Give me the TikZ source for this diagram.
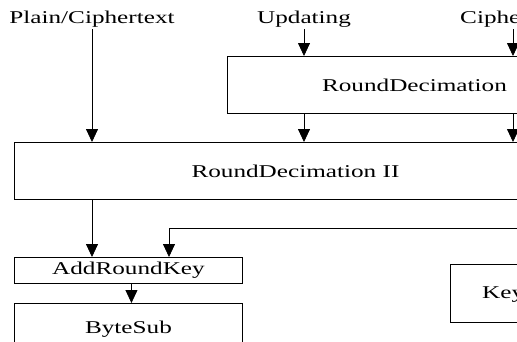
\documentclass[tikz,border=0pt]{standalone}
\usepackage{fontspec}
\setmainfont{Liberation Serif}
\usepackage{tikz}
\usetikzlibrary{positioning, arrows.meta}
\newcommand{\wtxt}[1]{\scalebox{1.4}[1]{#1}}

\begin{document}
\begin{tikzpicture}[x=1pt,y=-1pt,
  blk/.style={draw,line width=0.9pt,rectangle,inner sep=2pt,font=\fontsize{18}{20}\selectfont},
  lbl/.style={inner sep=2pt,font=\fontsize{18}{20}\selectfont},
  arr/.style={-{Triangle[length=13pt,width=12pt]},line width=0.8pt}]
  \useasboundingbox (0,0) rectangle (517,341);
  \clip (0,0) rectangle (517,341);

  \node[lbl, anchor=base] (pc) at (92,23) {\wtxt{Plain/Ciphertext}};
  \node[lbl, anchor=base] (upd) at (304,23) {\wtxt{Updating}};
  \node[lbl, anchor=base west] (cph) at (458,23) {\wtxt{Ciphe}};
  \coordinate (cx) at (513,29);

  \node[blk, anchor=north west, minimum width=374pt, minimum height=57pt] (rdec) at (227,56) {\wtxt{RoundDecimation}};
  \node[blk, anchor=north west, minimum width=562pt, minimum height=57pt] (rdec2) at (14,142) {\wtxt{RoundDecimation II}};
  \node[blk, anchor=north west, minimum width=228pt, minimum height=26pt] (addkey) at (14,257) {\wtxt{AddRoundKey}};
  \node[blk, anchor=north west, minimum width=228pt, minimum height=51pt] (bsub) at (14,303) {\wtxt{ByteSub}};
  \node[blk, anchor=north west, minimum width=120pt, minimum height=58pt] (kexp) at (450,264) {};
  \node[lbl, anchor=base west] (ktxt) at (480,298) {\wtxt{Key}};

  \coordinate (fb) at (530,228);
  \coordinate (kx) at (169,0);

  \draw[arr] (pc.south) -- (pc.south |- rdec2.north);
  \draw[arr] (upd.south) -- (upd.south |- rdec.north);
  \draw[arr] (cx) -- (cx |- rdec.north);
  \draw[arr] (rdec.south -| upd) -- (rdec2.north -| upd);
  \draw[arr] (rdec.south -| cx) -- (rdec2.north -| cx);
  \draw[arr] (rdec2.south -| pc) -- (addkey.north -| pc);
  \draw[arr] (fb) -| (kx |- addkey.north);
  \draw[arr] ([xshift=3pt]addkey.south) -- ([xshift=3pt]bsub.north);
\end{tikzpicture}
\end{document}
